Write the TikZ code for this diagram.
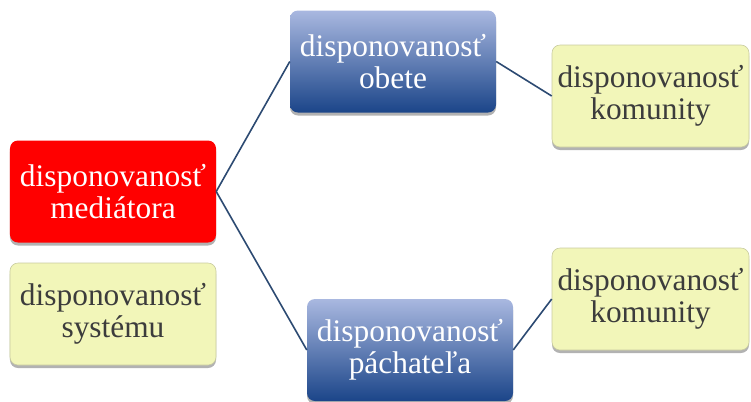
\documentclass[tikz,border=0pt]{standalone}
\usepackage{fontspec}
\setmainfont{Liberation Serif}
\usetikzlibrary{shadows}
\definecolor{redfill}{HTML}{FF0000}
\definecolor{bluetop}{HTML}{A9B8E0}
\definecolor{bluebot}{HTML}{1B4589}
\definecolor{yelfill}{HTML}{F2F6B9}
\definecolor{yelline}{HTML}{C8CBA0}
\definecolor{yeltext}{HTML}{3C3C3C}
\definecolor{linkcol}{HTML}{2C4A72}
\begin{document}
\begin{tikzpicture}[x=1bp,y=-1bp,
  boxbase/.style={rounded corners=8bp, minimum width=206bp, minimum height=102bp,
    inner sep=0pt, align=center, font=\fontsize{31.5}{32}\selectfont,
    drop shadow={shadow xshift=0bp, shadow yshift=-3bp, opacity=0.3, fill=black}},
  redbox/.style={boxbase, fill=redfill, text=white},
  bluebox/.style={boxbase, top color=bluetop, bottom color=bluebot, text=white},
  yelbox/.style={boxbase, fill=yelfill, draw=yelline, line width=0.6bp, text=yeltext},
  link/.style={draw=linkcol, line width=1.6bp}]
\useasboundingbox (0,0) rectangle (751,401);
\node[redbox] (med) at (113,191.5) {disponovanosť\\mediátora};
\node[yelbox] (sys) at (113,314) {disponovanosť\\systému};
\node[bluebox] (obe) at (393,61.5) {disponovanosť\\obete};
\node[bluebox] (pac) at (410,350) {disponovanosť\\páchateľa};
\node[yelbox, minimum width=197bp] (kom1) at (650.5,96) {disponovanosť\\komunity};
\node[yelbox, minimum width=197bp] (kom2) at (650.5,299) {disponovanosť\\komunity};
\draw[link] (med.east) -- (obe.west);
\draw[link] (med.east) -- (pac.west);
\draw[link] (obe.east) -- (kom1.west);
\draw[link] (pac.east) -- (kom2.west);
\end{tikzpicture}
\end{document}
